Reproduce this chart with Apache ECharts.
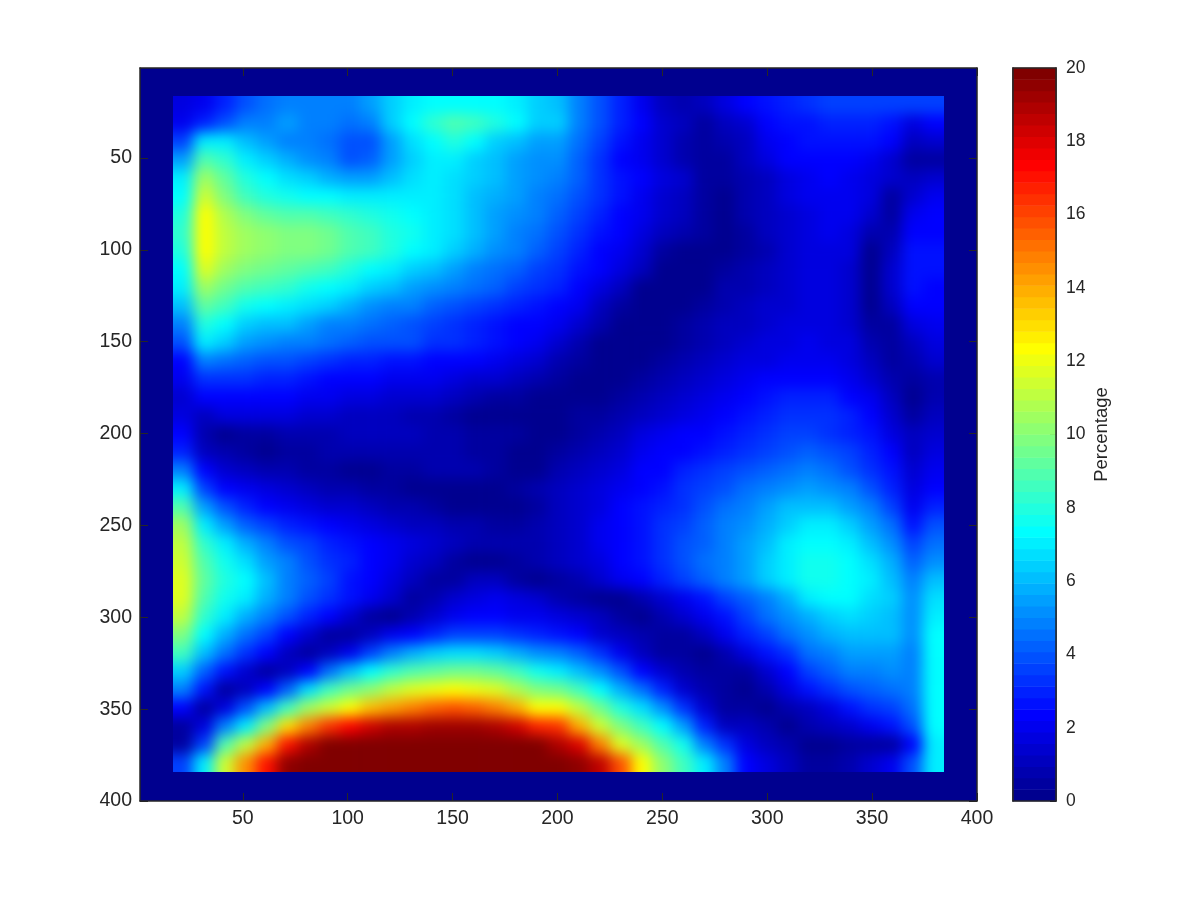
<!DOCTYPE html>
<html>
<head>
<meta charset="utf-8">
<style>html,body{margin:0;padding:0;background:#fff}#c{width:1200px;height:900px}</style>
<script src="https://cdn.jsdelivr.net/npm/echarts@6/dist/echarts.min.js"></script>
</head>
<body>
<div id="c"></div>
<script>
const xCategories = [21,31,41,51,61,71,81,91,101,111,121,131,141,151,161,171,181,191,201,211,221,231,241,251,261,271,281,291,301,311,321,331,341,351,361,371,381];
const yCategories = xCategories.slice();
const axisTicks = [50,100,150,200,250,300,350,400];
const colorbarTicks = [0,2,4,6,8,10,12,14,16,18,20];
const colorbarName = 'Percentage';

// x = 21 ... 191, one line per y = 21 ... 381
const valuesLeft = [
[1.8,2,3,4,4.5,5,5,5,5,5.5,6.5,7,7.5,7.5,7.5,7.2,7,6.5],
[2,3,4,5,5,5.5,5,5,4.5,5,6.5,7.5,8.2,8.8,8.5,8,7.5,6.5],
[3.5,7,7,6,5.5,5,5,4.5,3.8,4,5.5,6.8,7.5,8,7.2,6.5,6,5.5],
[5.5,9,8.3,7,6.3,5.8,5.3,4.8,4,4.3,5.5,6.5,7,7,6.5,6,5.6,5.2],
[7,10.5,9.3,8,7.2,6.7,6.3,5.9,5.5,5.5,6,6.6,6.9,6.8,6.4,6,5.6,5.2],
[7.5,11.3,10,8.7,8,7.7,7.4,7.2,7,7,7.1,7.1,6.9,6.6,6.2,5.8,5.4,5],
[8,12.2,10.8,9.8,9.2,9,8.8,8.6,8.3,8,7.7,7.4,7,6.6,6.1,5.6,5.2,4.7],
[8.2,12.5,11,10.4,10.2,10,9.8,9.5,9,8.5,8,7.6,7,6.6,6,5.5,5,4.5],
[8,12.4,11,10.4,10.2,10,9.7,9.5,9,8.5,8,7.5,6.9,6.3,5.7,5.2,4.7,4.2],
[7.5,11.6,10.5,10,9.6,9.3,9,8.6,8,7.5,7,6.5,6,5.5,5,4.5,4.1,3.7],
[7,10.5,9.5,9,8.6,8.3,7.8,7.5,7,6.3,6,5.6,5.2,4.8,4.4,4.1,3.7,3.3],
[6,9.3,8.5,7.8,7.3,7,6.7,6.3,5.8,5.3,5,4.7,4.3,4,3.7,3.4,3,2.7],
[5,8,7.2,6.5,6.2,6,5.5,5,4.7,4.5,4.3,4,3.7,3.2,3,2.8,2.5,2.2],
[3.8,7,6.5,5.5,5.2,5,4.7,4.5,4.2,4,3.9,3.8,3.4,3.2,3,2.8,2.5,2],
[2.5,4.8,4.4,4.3,4,3.8,3.5,3.3,3.1,3,2.8,2.6,2.5,2.5,2.2,2,1.8,1.5],
[2,3.2,3.2,3.2,3.1,2.9,2.7,2.5,2.4,2.3,2.1,2,1.9,1.8,1.5,1.3,1,0.7],
[1.5,2.4,2.5,2.5,2.4,2.2,2,1.9,1.8,1.7,1.5,1.4,1.3,1.2,0.9,0.6,0.4,0.3],
[1.8,1.2,1.6,1.8,1.7,1.6,1.5,1.3,1.2,1.2,1,0.9,0.7,0.6,0.3,0.2,0.2,0.2],
[2.5,0.7,0.3,0.4,0.5,0.7,0.8,0.9,1,1.1,1.1,1,0.9,0.7,0.6,0.5,0.4,0.2],
[3,1.2,0.8,0.4,0.3,0.5,0.6,0.7,0.7,0.8,0.9,0.9,0.8,0.7,0.6,0.4,0.2,0.1],
[5,2.2,1.5,1,0.9,0.7,0.5,0.4,0.2,0.2,0.4,0.6,0.8,0.8,0.7,0.5,0.3,0.2],
[7,3.5,2.5,2,1.6,1.3,1.1,0.9,0.8,0.6,0.4,0.2,0.2,0.3,0.3,0.3,0.5,0.8],
[9,5.5,3.8,3,2.5,2.1,1.8,1.5,1.3,1.1,0.9,0.7,0.4,0.2,0.1,0.1,0.2,0.5],
[10.5,7,5.5,4.3,3.5,3,2.6,2.2,2,1.8,1.5,1.2,1,0.8,0.7,0.6,0.6,0.8],
[11,8.3,7,5.8,4.8,4,3.5,3,2.6,2.3,2,1.6,1.3,1.1,0.9,0.8,0.8,0.9],
[11.5,8.8,7.7,6.8,5.6,4.7,4,3.4,2.9,2.4,1.9,1.4,1,0.5,0.3,0.2,0.4,0.7],
[11.8,9.2,8,7.2,6,5,4.2,3.5,2.8,2.2,1.6,1.1,0.5,0.4,1,1,0.5,0.2],
[11.8,9,7.8,6.9,5.8,4.8,4,3.3,2.6,2,1.4,0.5,0.8,1.3,1.8,2,1.8,1.3],
[11,8.3,7,5.8,4.8,3.8,3,2.3,1.4,0.5,0.3,0.9,1.5,2,2.3,2.2,2.1,1.9],
[10,7.3,5.7,4.5,3.5,2.4,1.4,0.4,0.6,1.2,1.9,2.5,3,3.5,3.7,3.6,3.4,3],
[8.5,6,4.5,3.2,2.2,1,0.5,1.2,2,3.5,4.7,5.8,6.5,6.8,6.8,6.5,5.9,5.3],
[6.5,4.2,2.8,1.5,0.5,1,2.3,4.5,6.1,7.5,8.3,8.8,9.2,9.4,9.4,9.1,8.5,7.8],
[5,2.8,0.6,1.2,2.2,4.3,6.8,8.5,9.5,10.3,11,11.6,12,12.2,12,11.6,10.8,10],
[2.5,0.4,1.7,3.8,6,8.5,10.5,11.5,12.3,13.5,14.2,15,15.5,15.7,15.5,14.8,13.9,12.5],
[0.6,1.6,5,7,10,13,14.8,16.5,17.5,18.3,18.8,19,19.2,19.2,19.2,19,18.3,16.8],
[0.6,3.6,9,11,14,17,19,20,20,20,20,20,20,20,20,20,20,19.9],
[3.5,7,11.5,14.5,17,19.5,20,20,20,20,20,20,20,20,20,20,20,20]
];
// x = 201 ... 381, one line per y = 21 ... 381
const valuesRight = [
[6,5,4,3,2,1,0.8,1.2,1.6,2.2,2.8,3,3.2,3.5,3.5,3.5,3.5,3.5,3.6],
[6.3,5,3.8,3,2.2,1.5,1,0.6,1,1.5,2.2,2.6,2.8,3,3,3,2.8,1.6,2.2],
[5.5,4.4,3.5,2.8,2.1,1.4,0.9,0.5,0.7,1.2,2,2.4,2.7,2.8,2.7,2.6,2.2,1.2,1.5],
[5.1,4.2,3.3,2.5,1.9,1.3,0.9,0.4,0.6,1,1.7,2.2,2.4,2.5,2.4,2.1,1.5,0.6,0.6],
[4.7,4.1,3.4,2.8,2.3,1.7,1.3,0.6,0.4,0.8,1.2,1.7,2,2.2,2.1,1.7,1.3,1,1.5],
[4.5,3.9,3.2,2.6,2.1,1.5,1.1,0.5,0.3,0.7,1.1,1.6,1.9,2.1,2,1.8,0.6,1.5,2],
[4.3,3.6,3,2.4,1.9,1.4,1,0.4,0.3,0.7,1.1,1.5,1.8,2,1.9,1.4,0.6,2,2.3],
[4,3.4,2.8,2.2,1.6,1.1,0.7,0.4,0.3,0.6,1,1.4,1.7,1.9,1.8,0.7,0.9,2.3,2.5],
[3.6,3,2.5,1.9,1.3,0.4,0.2,0.2,0.2,0.5,0.9,1.3,1.6,1.8,1.6,0.3,1.2,2.8,2.7],
[3.3,2.7,2.2,1.6,1,0.3,0.2,0.2,0.5,0.8,1.1,1.4,1.6,1.7,1.5,0.3,1.3,2.8,2.7],
[3,2.4,1.8,1,0.2,0.2,0.2,0.3,0.7,0.9,1.1,1.4,1.6,1.6,1.4,0.3,1.3,2.6,2.5],
[2.4,1.9,1.2,0.4,0.2,0.2,0.2,0.5,0.9,1.1,1.3,1.5,1.6,1.6,1.4,0.3,1,2.2,2.3],
[1.9,1.4,0.7,0.2,0.2,0.2,0.4,0.7,1,1.2,1.4,1.6,1.7,1.7,1.5,0.4,0.6,1.7,2],
[1.4,0.9,0.3,0.2,0.2,0.3,0.6,0.9,1.2,1.4,1.6,1.8,1.9,1.8,1.6,0.7,0.4,1.2,1.7],
[0.9,0.4,0.2,0.2,0.3,0.5,0.8,1.1,1.4,1.6,1.8,2,2.1,2,1.7,1.1,0.4,0.8,1.4],
[0.5,0.2,0.2,0.3,0.5,0.8,1.1,1.4,1.7,2,2.2,2.4,2.5,2.4,2,1.5,0.8,0.4,0.9],
[0.2,0.2,0.3,0.5,0.8,1.1,1.4,1.7,2,2.3,2.6,2.9,3,2.9,2.5,1.9,1.2,0.3,0.8],
[0.2,0.4,0.6,0.9,1.2,1.5,1.8,2.1,2.4,2.7,3,3.3,3.4,3.3,2.9,2.3,1.5,0.4,1],
[0.3,0.5,0.9,1.2,1.6,1.9,2.2,2.4,2.7,3,3.2,3.5,3.5,3.4,3,2.6,1.8,1,1.3],
[0.5,0.8,1.2,1.5,1.9,2.2,2.5,2.8,3.1,3.4,3.7,4,4.1,4,3.5,3,2.2,1.2,1.6],
[0.8,1,1.4,1.8,2.2,2.5,2.9,3.2,3.5,3.9,4.3,4.6,4.7,4.6,4,3.4,2.6,1.4,2],
[1,1.3,1.6,2,2.4,2.8,3.2,3.6,4,4.4,4.9,5.2,5.4,5.3,4.7,4,3,1.7,2.5],
[1,1.4,1.8,2.2,2.6,3,3.4,3.9,4.4,4.9,5.5,6,6.2,6.1,5.5,4.8,3.7,2.1,3],
[1.1,1.5,1.9,2.3,2.7,3.2,3.6,4.1,4.7,5.3,5.9,6.5,6.9,6.9,6.3,5.6,4.5,2.8,3.8],
[1.2,1.5,1.9,2.4,2.8,3.3,3.8,4.3,4.9,5.5,6.2,6.9,7.4,7.4,6.9,6.2,5.2,3.5,4.5],
[1,1.4,1.8,2.3,2.8,3.3,3.8,4.4,5,5.6,6.3,7,7.6,7.7,7.3,6.7,5.7,4.2,5.3],
[0.4,0.9,1.5,2,2.5,3.1,3.6,4.2,4.9,5.5,6.3,7,7.6,7.8,7.5,7,6.1,5,6.2],
[0.7,0.5,0.2,0.3,0.8,1.4,2,2.7,3.5,4.2,5,5.8,7,7.4,7.2,6.8,6.3,5.3,6.8],
[1.7,1.4,1,0.5,0.2,0.7,1.3,2,2.8,3.6,4.5,5.2,5.9,6.4,6.6,6.5,6.2,5.3,7],
[2.7,2.2,1.5,1,0.7,0.4,0.5,1.2,2,2.9,3.7,4.5,5.2,5.7,6,6,6,5.2,7.2],
[5,4.2,3.3,2,1,0.6,0.5,0.3,0.8,1.7,2.6,3.4,4.6,5,5.4,5.6,5.6,5,7.2],
[7.1,6.2,5.2,3.8,2.4,1.5,0.9,0.6,0.4,0.4,1.4,2.3,3.5,4.1,4.7,5,5.2,4.9,7.2],
[9.6,8.5,7.3,5.8,4.5,3,1.5,0.8,0.4,0.2,0.8,1.7,2.6,3.3,3.8,4.2,4.6,4.8,7.2],
[12.4,11,9.5,7.9,6.6,5.3,3.2,1.3,0.6,0.6,0.3,0.8,1.2,1.7,2.7,3.2,3.7,4.5,7.2],
[16.5,14,11.5,9.8,8.7,7.3,5.4,3,1.2,1.1,0.7,0.3,0.7,1.1,1.5,2,2.6,4,7.2],
[18.8,18,15,11.7,10.5,9,7.6,5,3.3,1.7,1.1,0.7,0.3,0.3,0.4,0.5,0.6,2.5,7],
[20,19.5,18.5,15.8,12.3,10.3,8.7,7,4.8,2.5,1.6,1,0.6,0.4,0.7,1.3,2,4,7]
];

const LEVELS = 64, VMAX = 20, INK = '#262626', FONT = '"Liberation Sans", Arial, sans-serif';
const clamp = v => Math.max(0, Math.min(1, v));
function jet(i) {
  const t = 4 * (i + 1) / LEVELS;
  const c = o => Math.round(255 * clamp(1.5 - Math.abs(t - o)));
  return 'rgb(' + c(3) + ',' + c(2) + ',' + c(1) + ')';
}
const step = VMAX / LEVELS;
const levelIdx = Array.from({length: LEVELS}, (_, i) => i);
const pieces = levelIdx.map(i => ({min: i * step, max: (i + 1) * step, color: jet(i)}));

// Inner image rectangle in page pixels; the heat layer is softened and clipped to it.
const inner = {left: 173, top: 96, width: 771, height: 676};
const nx = xCategories.length, ny = yCategories.length;
const cw = inner.width / nx, ch = inner.height / ny;

// One repeated edge row/column on each side, outside the clip, keeps the softened edge from fading.
const xBand = ['edge-l'].concat(xCategories, ['edge-r']);
const yBand = ['edge-t'].concat(yCategories, ['edge-b']);
const heat = [];
for (let r = -1; r <= ny; r++) {
  const rr = Math.max(0, Math.min(ny - 1, r));
  const row = valuesLeft[rr].concat(valuesRight[rr]);
  for (let c = -1; c <= nx; c++) {
    heat.push([c + 1, r + 1, row[Math.max(0, Math.min(nx - 1, c))]]);
  }
}
const barData = levelIdx.map(i => [0, i, (i + 0.5) * step]);

const tickStyle = {lineStyle: {color: INK, width: 1}};
function frameAxis(position, labelled, extra) {
  return Object.assign({
    type: 'value', gridIndex: 0, min: 1, max: 400, position,
    axisLine: {show: true, onZero: false, lineStyle: {color: INK, width: 1.5}},
    axisTick: Object.assign({show: true, inside: true, length: 8, customValues: axisTicks}, tickStyle),
    axisLabel: labelled
      ? {show: true, customValues: axisTicks, color: INK, fontSize: 19.5, fontFamily: FONT, margin: 8, hideOverlap: false, showMinLabel: true, showMaxLabel: true, padding: position === 'left' ? [0,0,3,0] : 0}
      : {show: false},
    splitLine: {show: false}
  }, extra || {});
}

const chart = echarts.init(document.getElementById('c'), null, {renderer: 'canvas'});
chart.setOption({
  animation: false,
  backgroundColor: '#fff',
  grid: [
    {left: 140, top: 68, width: 837, height: 733, show: true, backgroundColor: 'rgb(0,0,143)', borderWidth: 0, containLabel: false},
    {left: inner.left - cw, top: inner.top - ch, width: inner.width + 2 * cw, height: inner.height + 2 * ch, containLabel: false},
    {left: 1013, top: 68, width: 43, height: 733, containLabel: false}
  ],
  xAxis: [
    frameAxis('bottom', true),
    frameAxis('top', false),
    {type: 'category', gridIndex: 1, data: xBand, show: false},
    {type: 'category', gridIndex: 2, data: [colorbarName], show: false}
  ],
  yAxis: [
    frameAxis('left', true, {inverse: true}),
    frameAxis('right', false, {inverse: true}),
    {type: 'category', gridIndex: 1, data: yBand, inverse: true, show: false},
    {type: 'category', gridIndex: 2, data: levelIdx, show: false},
    {
      type: 'value', gridIndex: 2, min: 0, max: 20, interval: 2, position: 'right',
      name: colorbarName, nameLocation: 'middle', nameRotate: 90, nameGap: 36,
      nameTextStyle: {color: INK, fontSize: 18.5, fontFamily: FONT},
      axisLine: {show: true, onZero: false, lineStyle: {color: INK, width: 1.5}},
      axisTick: {show: true, inside: true, length: 6, lineStyle: {color: INK, width: 1}},
      axisLabel: {show: true, color: INK, fontSize: 17.5, fontFamily: FONT, margin: 10, showMinLabel: true, showMaxLabel: true,
        customValues: colorbarTicks},
      splitLine: {show: false}
    },
    {
      type: 'value', gridIndex: 2, min: 0, max: 20, position: 'left',
      axisLine: {show: true, onZero: false, lineStyle: {color: INK, width: 1.5}},
      axisTick: {show: false}, axisLabel: {show: false}, splitLine: {show: false}
    }
  ],
  visualMap: {type: 'piecewise', show: false, dimension: 2, pieces, seriesIndex: [0, 1]},
  series: [
    {type: 'heatmap', xAxisIndex: 2, yAxisIndex: 2, data: heat, zlevel: 1, progressive: 0, emphasis: {disabled: true}, silent: true},
    {type: 'heatmap', xAxisIndex: 3, yAxisIndex: 3, data: barData, progressive: 0, emphasis: {disabled: true}, silent: true}
  ],
  graphic: [{type: 'rect', silent: true, z: 100,
    shape: {x: 1013, y: 68, width: 43, height: 733},
    style: {fill: 'none', stroke: INK, lineWidth: 1.5}}]
});

// Soften the cell edges of the heat layer only, then clip it to the image rectangle.
const layer = document.querySelector('#c canvas[data-zr-dom-id="zr_1"]');
if (layer) {
  layer.style.filter = 'blur(7px)';
  layer.style.clipPath = 'inset(' + inner.top + 'px ' + (1200 - inner.left - inner.width) + 'px ' + (900 - inner.top - inner.height) + 'px ' + inner.left + 'px)';
}
</script>
</body>
</html>
